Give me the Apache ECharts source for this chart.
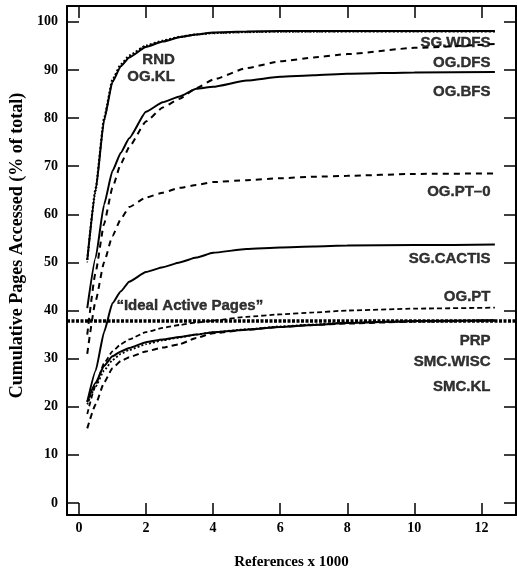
<!DOCTYPE html>
<html>
<head>
<meta charset="utf-8">
<script src="https://cdn.jsdelivr.net/npm/echarts@6/dist/echarts.min.js"></script>
<style>
html,body{margin:0;padding:0;background:#fff;}
#chart{width:517px;height:575px;}
</style>
</head>
<body>
<div id="chart"></div>
<script>
// ---- data ----
const xs = [0.25, 0.5, 0.75, 1, 1.25, 1.5, 2, 2.5, 3, 3.5, 4, 5, 6, 7, 8, 10, 12.4];
const rnd      = [50.5, 65, 79.5, 87.5, 90.8, 92.6, 94.8, 95.9, 96.8, 97.4, 97.8, 98, 98.1, 98.1, 98.1, 98.1, 98.1];
const ogKl     = [50.5, 65.5, 80, 88, 91.2, 93, 95.1, 96.1, 96.9, 97.4, 97.7, 97.9, 98, 98, 98, 98, 98];
const sgWdfs   = [50, 64.5, 79.5, 87.5, 90.8, 92.7, 95, 96, 96.8, 97.3, 97.6, 97.8, 97.9, 97.9, 98, 98, 98];
const ogDfs    = [35, 48, 58, 65.5, 70.5, 74, 79.3, 82.2, 84, 86.2, 88, 90.4, 91.8, 92.6, 93.3, 94.6, 95.4];
const ogBfs    = [40.5, 51, 62, 69, 72.8, 75.8, 81.3, 83.3, 84.5, 86.1, 86.5, 87.8, 88.6, 88.9, 89.2, 89.5, 89.6];
const ogPt0    = [31, 42, 50, 55.5, 59, 61.5, 63.5, 64.5, 65.5, 66.1, 66.7, 67.1, 67.5, 67.8, 68, 68.4, 68.5];
const sgCactis = [21, 27.5, 35.5, 41.5, 44, 46, 48, 49, 50, 51, 52, 52.8, 53.1, 53.3, 53.5, 53.6, 53.7];
const ogPt     = [18.5, 24.5, 29, 31.5, 33, 34, 35.5, 36.4, 37, 37.5, 37.9, 38.7, 39.2, 39.6, 40, 40.4, 40.6];
const prp      = [21, 25, 28.5, 30.5, 31.5, 32.2, 33.4, 34, 34.5, 35, 35.5, 36, 36.6, 37, 37.4, 37.8, 38];
const smcWisc  = [20.5, 24.2, 27.5, 29.7, 31, 31.8, 33, 33.8, 34.4, 35, 35.5, 36.1, 36.7, 37.1, 37.5, 37.8, 37.9];
const smcKl    = [15.5, 20.5, 25, 28, 29.5, 30.3, 31.5, 32.3, 33, 34.3, 35.3, 36, 36.6, 37, 37.3, 37.7, 37.9];
const idealActivePages = 37.9;

const xTicks = [0, 2, 4, 6, 8, 10, 12];
const yTicks = [0, 10, 20, 30, 40, 50, 60, 70, 80, 90, 100];

const labelNames = ['RND', 'OG.KL', 'SG.WDFS', 'OG.DFS', 'OG.BFS', 'OG.PT\u20130', 'SG.CACTIS', 'OG.PT', 'PRP', 'SMC.WISC', 'SMC.KL'];
const labelX = [2.86, 2.86, 12.27, 12.27, 12.27, 12.27, 12.27, 12.27, 12.27, 12.27, 12.27];
const labelY = [92.1, 88.6, 95.7, 91.5, 85.5, 64.7, 50.7, 42.9, 33.7, 29.4, 24.2];
const idealLabel = '\u201cIdeal Active Pages\u201d';
const idealLabelX = 1.12, idealLabelY = 41;

// ---- chart ----
const chart = echarts.init(document.getElementById('chart'), null, {renderer: 'canvas'});
const serif = '"Liberation Serif", "DejaVu Serif", serif';
const sans = '"Liberation Sans", Arial, sans-serif';

function pairs(ys) { return xs.map((x, i) => [x, ys[i]]); }
function line(name, ys, type, width) {
  return {
    name, type: 'line', data: pairs(ys), showSymbol: false, symbol: 'none',
    smooth: 0.15, smoothMonotone: 'x',
    lineStyle: {color: '#000', width: width || 2, type: type || 'solid'},
    z: 3
  };
}
const XMIN = -0.354, XMAX = 13.03, YMIN = -2.5, YMAX = 103.3;
const tickStyle = {color: '#000', width: 1.5};
const labelStyle = {
  color: '#000', fontFamily: sans, fontWeight: 'bold', fontSize: 15,
  textBorderColor: '#000', textBorderWidth: 0.4
};

const option = {
  backgroundColor: '#fff',
  animation: false,
  grid: {left: 62, right: 1, top: 6, bottom: 58, containLabel: false},
  xAxis: [
    {
      type: 'value', position: 'bottom', min: XMIN, max: XMAX,
      splitLine: {show: false},
      axisLine: {show: true, onZero: false, lineStyle: {color: '#000', width: 2}},
      axisTick: {show: true, inside: true, length: 12, customValues: xTicks, lineStyle: tickStyle},
      axisLabel: {show: true, customValues: xTicks, margin: 6, color: '#000', fontFamily: serif, fontWeight: 'bold', fontSize: 14},
      name: 'References x 1000', nameLocation: 'middle', nameGap: 40,
      nameTextStyle: {color: '#000', fontFamily: serif, fontWeight: 'bold', fontSize: 15}
    },
    {
      type: 'value', position: 'top', min: XMIN, max: XMAX,
      splitLine: {show: false},
      axisLine: {show: true, onZero: false, lineStyle: {color: '#000', width: 2}},
      axisTick: {show: true, inside: true, length: 12, customValues: xTicks, lineStyle: tickStyle},
      axisLabel: {show: false}
    }
  ],
  yAxis: [
    {
      type: 'value', position: 'left', min: YMIN, max: YMAX,
      splitLine: {show: false},
      axisLine: {show: true, onZero: false, lineStyle: {color: '#000', width: 2}},
      axisTick: {show: true, inside: true, length: 12, customValues: yTicks, lineStyle: tickStyle},
      axisLabel: {show: true, customValues: yTicks, margin: 9, color: '#000', fontFamily: serif, fontWeight: 'bold', fontSize: 14},
      name: 'Cumulative Pages Accessed (% of total)', nameLocation: 'middle', nameGap: 41,
      nameTextStyle: {color: '#000', fontFamily: serif, fontWeight: 'bold', fontSize: 18, padding: [0, 0, 0, 30]}
    },
    {
      type: 'value', position: 'right', min: YMIN, max: YMAX,
      splitLine: {show: false},
      axisLine: {show: true, onZero: false, lineStyle: {color: '#000', width: 2}},
      axisTick: {show: true, inside: true, length: 12, customValues: yTicks, lineStyle: tickStyle},
      axisLabel: {show: false}
    }
  ],
  series: [
    line('RND', rnd, 'solid', 2),
    line('OG.KL', ogKl, [2, 2], 2),
    line('SG.WDFS', sgWdfs, [1, 2], 1.5),
    line('OG.DFS', ogDfs, [6, 5], 2),
    line('OG.BFS', ogBfs, 'solid', 2),
    line('OG.PT-0', ogPt0, [6, 5], 2),
    line('SG.CACTIS', sgCactis, 'solid', 2),
    line('OG.PT', ogPt, [5, 3], 1.8),
    line('PRP', prp, 'solid', 2),
    line('SMC.WISC', smcWisc, [2, 2], 1.8),
    line('SMC.KL', smcKl, [6, 4], 2),
    {
      name: 'Ideal', type: 'line', data: [], showSymbol: false,
      markLine: {
        silent: true, symbol: 'none', label: {show: false},
        lineStyle: {color: '#000', width: 3.5, type: [3, 1.5]},
        data: [{yAxis: idealActivePages}]
      }
    },
    {
      name: 'labels', type: 'scatter', symbolSize: 0, silent: true,
      data: labelNames.map((n, i) => ({value: [labelX[i], labelY[i]], name: n})),
      label: Object.assign({show: true, position: 'left', distance: 0, formatter: p => p.name}, labelStyle),
      z: 5
    },
    {
      name: 'idealLabel', type: 'scatter', symbolSize: 0, silent: true,
      data: [{value: [idealLabelX, idealLabelY], name: idealLabel}],
      label: Object.assign({show: true, position: 'right', distance: 0, formatter: p => p.name}, labelStyle),
      z: 5
    }
  ]
};
chart.setOption(option);
</script>
</body>
</html>
